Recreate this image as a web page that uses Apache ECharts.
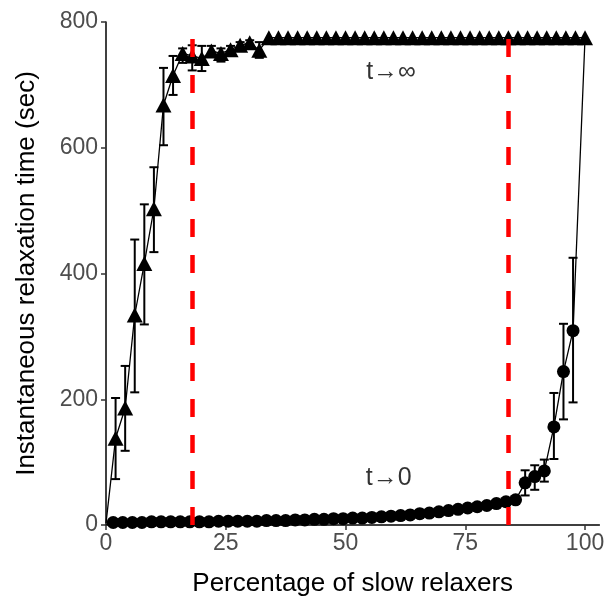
<!DOCTYPE html>
<html>
<head>
<meta charset="utf-8">
<script src="https://cdn.jsdelivr.net/npm/echarts@6/dist/echarts.min.js"></script>
<style>html,body{margin:0;padding:0;background:#fff}#c{width:608px;height:602px}</style>
</head>
<body>
<div id="c"></div>
<script>
// ---- data ----
var xTicks = [0, 25, 50, 75, 100];
var yTicks = [0, 200, 400, 600, 800];

// t -> infinity (triangles)
var triX = [0,2,4,6,8,10,12,14,16,18,20,22,24,26,28,30,32,34,36,38,40,42,44,46,48,50,
            52,54,56,58,60,62,64,66,68,70,72,74,76,78,80,82,84,86,88,90,92,94,96,98,100];
var triY = [3,138,186,334,416,503,668,715,750,746,742,754,750,756,763,767,755,775,775,775,775,775,775,775,775,775,
            775,775,775,775,775,775,775,775,775,775,775,775,775,775,775,775,775,775,775,775,775,775,775,775,775];
var triErrX  = [2,4,6,8,10,12,14,16,18,20,22,24,26,28,30,32];
var triErrLo = [73,118,211,319,434,604,684,735,723,722,745,737,750,757,762,743];
var triErrHi = [202,253,454,510,569,727,746,758,763,762,762,758,762,768,771,768];

// t -> 0 (circles)
var cirX = [1.5,3.5,5.5,7.5,9.5,11.5,13.5,15.5,17.5,19.5,21.5,23.5,25.5,27.5,29.5,31.5,33.5,35.5,37.5,39.5,
            41.5,43.5,45.5,47.5,49.5,51.5,53.5,55.5,57.5,59.5,61.5,63.5,65.5,67.5,69.5,71.5,73.5,75.5,77.5,79.5,
            81.5,83.5,85.5,87.5,89.5,91.5,93.5,95.5,97.5,100];
var cirY = [4,4,4,4,5,5,5,5,5,5,5,6,6,6,6,6,7,7,7,8,
            8,9,9,10,10,11,11,12,13,14,15,16,18,19,21,23,25,27,29,31,
            34,37,40,67,77,86,156,244,309,775];
var cirErrX  = [87.5,89.5,91.5,93.5,95.5,97.5];
var cirErrLo = [47,56,69,105,168,195];
var cirErrHi = [87,95,104,210,320,425];

var vLines = [18, 84];
var notes = [{x: 59.5, y: 720, text: 't\u2192\u221E'}, {x: 59, y: 75, text: 't\u21920'}];

// ---- build ----
function zip(a, b) { return a.map(function (v, i) { return [v, b[i]]; }); }
function zip3(a, b, c) { return a.map(function (v, i) { return [v, b[i], c[i]]; }); }
// points on the panel edge are clipped away in the original
function inPanel(p) { return p[0] > 0 && p[0] < 100; }
function inPanelTri(p) { return p[0] > 0; }

function errRender(params, api) {
  var x = api.value(0);
  var lo = api.coord([x, api.value(1)]);
  var hi = api.coord([x, api.value(2)]);
  var hw = 4.5;
  var st = { stroke: '#000', lineWidth: 2 };
  return {
    type: 'group',
    children: [
      { type: 'line', shape: { x1: lo[0], y1: lo[1], x2: hi[0], y2: hi[1] }, style: st },
      { type: 'line', shape: { x1: lo[0] - hw, y1: lo[1], x2: lo[0] + hw, y2: lo[1] }, style: st },
      { type: 'line', shape: { x1: hi[0] - hw, y1: hi[1], x2: hi[0] + hw, y2: hi[1] }, style: st }
    ]
  };
}

var font = '"Liberation Sans", Arial, Helvetica, sans-serif';
var chart = echarts.init(document.getElementById('c'), null, { renderer: 'canvas' });
chart.setOption({
  animation: false,
  backgroundColor: '#fff',
  grid: { left: 106, right: 8.6, top: 22, bottom: 77 },
  xAxis: {
    type: 'value', min: 0, max: 103, interval: 25,
    name: 'Percentage of slow relaxers', nameLocation: 'middle', nameGap: 46,
    nameTextStyle: { fontFamily: font, fontSize: 26, color: '#000' },
    axisLine: { show: true, onZero: false, lineStyle: { color: '#000', width: 1.5 } },
    axisTick: { show: true, length: 5, lineStyle: { color: '#333', width: 1.5 },
                customValues: xTicks },
    axisLabel: { fontFamily: font, fontSize: 23, color: '#4D4D4D', margin: 7,
                 customValues: xTicks, showMaxLabel: true, showMinLabel: true },
    splitLine: { show: false }
  },
  yAxis: {
    type: 'value', min: 0, max: 800, interval: 200,
    name: 'Instantaneous relaxation time (sec)', nameLocation: 'middle', nameGap: 66,
    nameTextStyle: { fontFamily: font, fontSize: 26, color: '#000' },
    axisLine: { show: true, onZero: false, lineStyle: { color: '#000', width: 1.5 } },
    axisTick: { show: true, length: 5, lineStyle: { color: '#333', width: 1.5 } },
    axisLabel: { fontFamily: font, fontSize: 23, color: '#4D4D4D', margin: 8,
                 formatter: function (v) { return yTicks.indexOf(v) >= 0 ? String(v) : ''; } },
    splitLine: { show: false }
  },
  series: [
    { type: 'line', data: zip(cirX, cirY), showSymbol: false, symbol: 'none', z: 1,
      lineStyle: { color: '#000', width: 1.3 } },
    { type: 'line', data: zip(triX, triY), showSymbol: false, symbol: 'none', z: 1,
      lineStyle: { color: '#000', width: 1.3 } },
    { type: 'custom', renderItem: errRender, data: zip3(cirErrX, cirErrLo, cirErrHi), z: 2,
      encode: { x: 0, y: [1, 2] } },
    { type: 'custom', renderItem: errRender, data: zip3(triErrX, triErrLo, triErrHi), z: 2,
      encode: { x: 0, y: [1, 2] } },
    { type: 'scatter', data: zip(cirX, cirY).filter(inPanel), symbol: 'circle', symbolSize: 13, z: 3,
      itemStyle: { color: '#000', opacity: 1 } },
    { type: 'scatter', data: zip(triX, triY).filter(inPanelTri), symbol: 'triangle', symbolSize: [16, 15], z: 4,
      itemStyle: { color: '#000', opacity: 1 } },
    { type: 'scatter', data: notes.map(function (n) { return { value: [n.x, n.y], name: n.text }; }),
      symbolSize: 0, z: 6, silent: true,
      label: { show: true, position: 'inside', formatter: '{b}', fontFamily: font, fontSize: 25, color: '#000' } },
    { type: 'line', data: [], z: 5,
      markLine: { silent: true, symbol: ['none', 'none'], animation: false, label: { show: false },
        lineStyle: { color: '#FF0000', width: 4.5, type: [18, 18] },
        data: vLines.map(function (v) { return { xAxis: v }; }) } }
  ]
});
</script>
</body>
</html>
